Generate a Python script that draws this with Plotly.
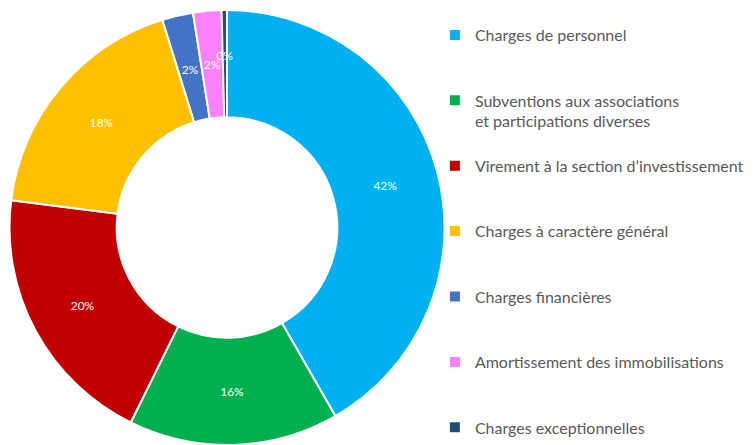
import plotly.graph_objects as go

categories = [
    "Charges de personnel",
    "Subventions aux associations<br>et participations diverses",
    "Virement à la section d’investissement",
    "Charges à caractère général",
    "Charges financières",
    "Amortissement des immobilisations",
    "Charges exceptionnelles",
]
parts = [41.7, 15.6, 19.7, 18.2, 2.3, 2.1, 0.4]
couleurs = ["#00B0F0", "#00B050", "#C00000", "#FFC000", "#4472C4", "#FF80FF", "#1F4E79"]

# espace vertical entre les items de legende (lignes vides), sauf le dernier
legende = []
for i, c in enumerate(categories):
    if i == len(categories) - 1:
        legende.append(c)
    else:
        legende.append(c + "<br> " * (2 - c.count("<br>")))

# petites parts: etiquette portee par un anneau transparent plus petit
petit = [p < 5 for p in parts]
tmpl_grand = ["" if s else "%{percent:.0%}" for s in petit]
tmpl_petit = ["%{percent:.0%}" if s else "" for s in petit]

fig = go.Figure()
fig.add_trace(go.Pie(
    labels=legende,
    values=parts,
    marker=dict(colors=couleurs, line=dict(color="white", width=2)),
    hole=0.507,
    sort=False,
    direction="clockwise",
    rotation=0,
    texttemplate=tmpl_grand,
    textposition="inside",
    insidetextorientation="horizontal",
    textfont=dict(color="white", size=12, family="Lato"),
    domain=dict(x=[0.0106, 0.5907], y=[0.0, 0.9775]),
))
fig.add_trace(go.Pie(
    labels=legende,
    values=parts,
    marker=dict(colors=["rgba(0,0,0,0)"] * len(parts), line=dict(width=0)),
    hole=0.6,
    sort=False,
    direction="clockwise",
    rotation=0,
    texttemplate=tmpl_petit,
    textposition="inside",
    insidetextorientation="horizontal",
    textfont=dict(color="white", size=12, family="Lato"),
    domain=dict(x=[0.0702, 0.5311], y=[0.0978, 0.8798]),
    showlegend=False,
    hoverinfo="skip",
))

fig.update_layout(
    width=755,
    height=445,
    margin=dict(l=0, r=0, t=0, b=0),
    paper_bgcolor="white",
    font=dict(family="Lato", color="#595959"),
    uniformtext=dict(minsize=12, mode="show"),
    legend=dict(
        x=0.576, xanchor="left",
        y=0.944, yanchor="top",
        valign="top",
        bgcolor="rgba(0,0,0,0)",
        font=dict(size=16, color="#595959", family="Lato"),
        tracegroupgap=0,
    ),
)

fig.write_html("out.html", config={"displayModeBar": False},
               post_script="document.body.style.margin='0';")
